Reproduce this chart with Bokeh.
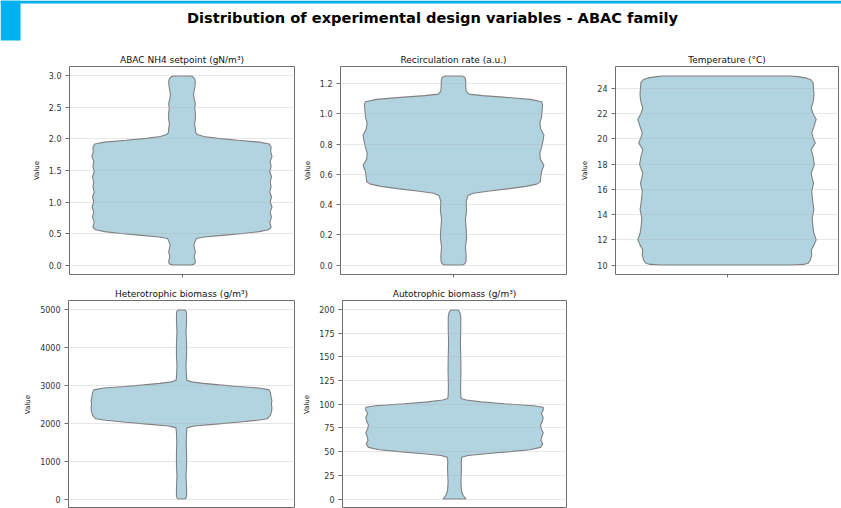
from bokeh.plotting import figure
from bokeh.layouts import column, row
from bokeh.models import Range1d, FixedTicker, Label, BoxAnnotation, NumeralTickFormatter, CustomJSTickFormatter
from bokeh.embed import file_html
from bokeh.resources import INLINE

MAIN_TITLE = "Distribution of experimental design variables - ABAC family"

# ---- data: violin profiles (value, relative half-width) ----
NH4_TITLE = "ABAC NH4 setpoint (gN/m³)"
NH4_V = [0.00, 0.015, 0.04, 0.08, 0.14, 0.20, 0.26, 0.32, 0.38, 0.42,
         0.445, 0.47, 0.50, 0.53, 0.56, 0.60, 0.68, 0.76, 0.84, 0.92,
         1.00, 1.08, 1.16, 1.24, 1.32, 1.40, 1.48, 1.56, 1.64, 1.72,
         1.80, 1.87, 1.92, 1.95, 1.98, 2.01, 2.04, 2.07, 2.10, 2.16,
         2.24, 2.32, 2.40, 2.48, 2.56, 2.64, 2.72, 2.80, 2.88, 2.94,
         2.975, 3.00]
NH4_W = [0.10, 0.135, 0.148, 0.145, 0.135, 0.148, 0.14, 0.132, 0.148, 0.16,
         0.25, 0.45, 0.68, 0.86, 0.96, 0.99, 0.975, 0.995, 0.98, 1.0,
         0.98, 0.995, 0.975, 0.99, 0.98, 0.995, 0.975, 0.99, 0.98, 1.0,
         0.985, 0.99, 0.97, 0.86, 0.62, 0.40, 0.24, 0.17, 0.152, 0.148,
         0.14, 0.148, 0.15, 0.142, 0.148, 0.135, 0.128, 0.14, 0.148, 0.145,
         0.13, 0.10]
NH4_TICKS = [0.0, 0.5, 1.0, 1.5, 2.0, 2.5, 3.0]

REC_TITLE = "Recirculation rate (a.u.)"
REC_V = [0.00, 0.008, 0.025, 0.06, 0.12, 0.18, 0.24, 0.30, 0.36, 0.42,
         0.46, 0.475, 0.49, 0.505, 0.52, 0.535, 0.55, 0.58, 0.62, 0.66,
         0.70, 0.74, 0.78, 0.82, 0.86, 0.90, 0.94, 0.98, 1.02, 1.06,
         1.08, 1.095, 1.11, 1.12, 1.13, 1.15, 1.18, 1.21, 1.235, 1.245,
         1.25]
REC_W = [0.10, 0.125, 0.138, 0.14, 0.132, 0.145, 0.14, 0.132, 0.145, 0.14,
         0.16, 0.22, 0.40, 0.62, 0.80, 0.92, 0.96, 0.965, 0.975, 1.0,
         0.96, 0.955, 0.975, 0.99, 1.0, 0.965, 0.955, 0.975, 0.98, 0.985,
         0.975, 0.85, 0.55, 0.32, 0.17, 0.14, 0.136, 0.136, 0.13, 0.115,
         0.09]
REC_TICKS = [0.0, 0.2, 0.4, 0.6, 0.8, 1.0, 1.2]

TMP_TITLE = "Temperature (°C)"
TMP_V = [10.0, 10.05, 10.15, 10.4, 10.8, 11.2, 11.6, 12.0, 12.5, 13.05,
         13.7, 14.4, 15.1, 15.84, 16.5, 16.9, 17.3, 17.97, 18.6, 19.16,
         19.69, 20.1, 20.49, 21.0, 21.56, 22.0, 22.48, 22.8, 23.15, 23.6,
         24.0, 24.47, 24.7, 24.85, 24.95, 25.0]
TMP_W = [0.72, 0.86, 0.91, 0.935, 0.95, 0.945, 0.975, 1.0, 0.975, 0.963,
         0.955, 0.974, 0.96, 0.95, 0.97, 0.955, 0.944, 0.98, 0.965, 0.944,
         0.99, 0.965, 0.95, 0.975, 1.0, 0.965, 0.944, 0.96, 0.97, 0.975,
         0.97, 0.965, 0.94, 0.88, 0.79, 0.72]
TMP_TICKS = [10, 12, 14, 16, 18, 20, 22, 24]

HET_TITLE = "Heterotrophic biomass (g/m³)"
HET_V = [10, 40, 100, 300, 600, 900, 1200, 1500, 1750, 1880,
         1930, 1980, 2030, 2080, 2120, 2200, 2300, 2400, 2500, 2600,
         2700, 2800, 2880, 2930, 2970, 3010, 3050, 3090, 3130, 3200,
         3500, 3800, 4100, 4400, 4700, 4900, 4950, 4980]
HET_W = [0.037, 0.05, 0.056, 0.056, 0.05, 0.056, 0.056, 0.052, 0.056, 0.06,
         0.14, 0.38, 0.62, 0.84, 0.95, 0.98, 0.995, 1.0, 0.995, 1.0,
         0.99, 0.985, 0.97, 0.86, 0.62, 0.42, 0.24, 0.11, 0.06, 0.056,
         0.05, 0.056, 0.056, 0.05, 0.056, 0.055, 0.05, 0.037]
HET_TICKS = [0, 1000, 2000, 3000, 4000, 5000]

AUT_TITLE = "Autotrophic biomass (g/m³)"
AUT_V = [0, 1.5, 4, 8, 12, 18, 25, 32, 39, 44,
         46, 48, 50, 52, 54.5, 58, 62, 66, 70, 74,
         78, 82, 86, 90, 94, 96.8, 98.5, 100.5, 102.5, 104.5,
         106, 110, 120, 135, 150, 165, 180, 192, 197, 199.5]
AUT_W = [0.13, 0.115, 0.095, 0.08, 0.075, 0.072, 0.075, 0.078, 0.075, 0.08,
         0.15, 0.38, 0.62, 0.84, 0.96, 0.985, 0.965, 0.975, 0.99, 0.97,
         0.96, 0.98, 0.99, 0.97, 0.99, 0.99, 0.88, 0.56, 0.3, 0.13,
         0.075, 0.07, 0.068, 0.072, 0.07, 0.066, 0.07, 0.07, 0.06, 0.04]
AUT_TICKS = [0, 25, 50, 75, 100, 125, 150, 175, 200]

# ---- style ----
FONT = "DejaVu Sans"
FILL = "#b1d4e0"
EDGE = "#808080"
FRAME = "#6e6e6e"
HALF = 0.4  # max half width of violin in x units


def panel(title, V, W, ticks, fmt, width, height, left, right, top, bottom, xaxis=True):
    lo, hi = min(V), max(V)
    pad = 0.05 * (hi - lo)
    p = figure(width=width, height=height, x_range=Range1d(0.5, 1.5),
               y_range=Range1d(lo - pad, hi + pad),
               output_backend="svg", toolbar_location=None,
               min_border_left=left, min_border_right=right,
               min_border_top=top, min_border_bottom=bottom,
               x_axis_location="below" if xaxis else None,
               title=title)
    xs = [1 - HALF * w for w in W] + [1 + HALF * w for w in reversed(W)]
    ys = list(V) + list(reversed(V))
    p.patch(xs, ys, fill_color=FILL, fill_alpha=1.0, line_color=EDGE, line_width=1.1)

    p.title.align = "center"
    p.title.text_font = FONT
    p.title.text_font_size = "9px"
    p.title.text_font_style = "normal"
    p.title.text_color = "#111111"
    p.title.standoff = 4

    p.outline_line_color = FRAME
    p.outline_line_width = 1
    p.background_fill_color = "white"
    p.border_fill_color = "white"

    p.xgrid.visible = False
    p.ygrid.grid_line_color = "#b0b0b0"
    p.ygrid.grid_line_alpha = 0.3
    p.ygrid.level = "annotation"

    ya = p.yaxis[0]
    ya.ticker = FixedTicker(ticks=ticks)
    ya.formatter = NumeralTickFormatter(format=fmt)
    ya.axis_label = "Value"
    ya.axis_label_text_font = FONT
    ya.axis_label_text_font_size = "7px"
    ya.axis_label_text_font_style = "normal"
    ya.axis_label_text_color = "#222222"
    ya.axis_label_standoff = 5
    ya.major_label_text_font = FONT
    ya.major_label_text_font_size = "8px"
    ya.major_label_text_color = "#333333"
    ya.major_label_standoff = 4
    ya.major_tick_out = 4
    ya.major_tick_in = 0
    ya.minor_tick_out = 0
    ya.minor_tick_in = 0
    ya.major_tick_line_color = FRAME
    ya.axis_line_color = None

    if xaxis:
        xa = p.xaxis[0]
        xa.ticker = FixedTicker(ticks=[1])
        xa.formatter = CustomJSTickFormatter(code="return ''")
        xa.major_label_text_font_size = "8px"
        xa.major_label_standoff = 0
        xa.major_tick_out = 3
        xa.major_tick_in = 0
        xa.minor_tick_out = 0
        xa.major_tick_line_color = FRAME
        xa.axis_line_color = None
    return p


pA = panel(NH4_TITLE, NH4_V, NH4_W, NH4_TICKS, "0.0", 300, 240, 69, 6, 22, 10)
pB = panel(REC_TITLE, REC_V, REC_W, REC_TICKS, "0.0", 278, 240, 40, 12, 22, 10)
pC = panel(TMP_TITLE, TMP_V, TMP_W, TMP_TICKS, "0", 263, 240, 34, 3, 22, 10)
pD = panel(HET_TITLE, HET_V, HET_W, HET_TICKS, "0", 300, 224, 68, 6, 16, 0, xaxis=False)
pE = panel(AUT_TITLE, AUT_V, AUT_W, AUT_TICKS, "0", 278, 224, 40, 12, 16, 0, xaxis=False)

# header with main title and blue decoration
head = figure(width=841, height=44, x_range=Range1d(0, 841), y_range=Range1d(44, 0),
              output_backend="svg", toolbar_location=None,
              x_axis_location=None, y_axis_location=None,
              min_border=0, min_border_left=0, min_border_right=0,
              min_border_top=0, min_border_bottom=0)
head.outline_line_color = None
head.grid.visible = False
head.border_fill_color = "white"
head.add_layout(BoxAnnotation(left=0, right=841, top=0, bottom=3,
                              fill_color="#00b0f0", fill_alpha=1, line_color=None))
head.add_layout(BoxAnnotation(left=0, right=20, top=0, bottom=40,
                              fill_color="#00b0f0", fill_alpha=1, line_color=None))
head.add_layout(Label(x=432, y=17, text=MAIN_TITLE, text_align="center",
                      text_baseline="alphabetic", text_font=FONT,
                      text_font_size="14.6px", text_font_style="bold",
                      text_color="black"))

layout = column(head, row(pA, pB, pC), row(pD, pE))

open("out.html", "w").write(file_html(layout, INLINE))
